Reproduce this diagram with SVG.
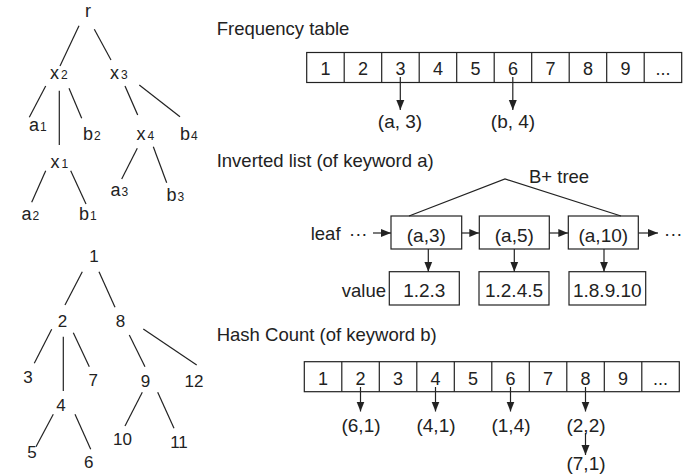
<svg xmlns="http://www.w3.org/2000/svg" width="695" height="476" viewBox="0 0 695 476">
<style>
text{font-family:"Liberation Sans",Arial,sans-serif;fill:#222}
.t{font-size:18px}
.s{font-size:12px}
.n{font-size:17px;text-anchor:middle}
.ttl{font-size:18.5px}
.c{font-size:18px;text-anchor:middle}
.l{font-size:19px;text-anchor:middle}
.e{stroke:#222;stroke-width:1.2;fill:none}
.box{stroke:#222;stroke-width:1.2;fill:#fff}
.a{stroke:#222;stroke-width:1.2;fill:none;marker-end:url(#ah)}
</style>
<defs>
<marker id="ah" markerUnits="userSpaceOnUse" markerWidth="10" markerHeight="10" viewBox="0 0 10 10" refX="10" refY="5" orient="auto">
<path d="M0,1 L10,5 L0,9 Z" fill="#222"/>
</marker>
</defs>
<rect width="695" height="476" fill="#fff"/>

<!-- Tree 1 edges -->
<g id="tree1-edges">
<line class="e" x1="79" y1="25.7" x2="60" y2="66"/>
<line class="e" x1="94.3" y1="29.3" x2="111" y2="60"/>
<line class="e" x1="45.7" y1="86" x2="29.3" y2="117.3"/>
<line class="e" x1="59.3" y1="90.7" x2="59.3" y2="145"/>
<line class="e" x1="69" y1="88.3" x2="81.7" y2="118.3"/>
<line class="e" x1="125" y1="86" x2="137.7" y2="115"/>
<line class="e" x1="139.3" y1="85" x2="180" y2="116.7"/>
<line class="e" x1="45.7" y1="170.7" x2="31.7" y2="202.3"/>
<line class="e" x1="70.7" y1="170.7" x2="86" y2="204"/>
<line class="e" x1="137.3" y1="148.3" x2="121.7" y2="179"/>
<line class="e" x1="153.3" y1="146.7" x2="166.7" y2="182.7"/>
</g>
<g id="t1-r"><text class="t" x="88" y="16.7" text-anchor="middle">r</text></g>
<g id="t1-x2"><text class="t" x="50" y="79">x<tspan class="s" dx="2">2</tspan></text></g>
<g id="t1-x3"><text class="t" x="110" y="79">x<tspan class="s" dx="2">3</tspan></text></g>
<g id="t1-a1"><text class="t" x="29" y="130.7">a<tspan class="s" dx="1">1</tspan></text></g>
<g id="t1-b2"><text class="t" x="83" y="140">b<tspan class="s" dx="1">2</tspan></text></g>
<g id="t1-x4"><text class="t" x="136.5" y="140">x<tspan class="s" dx="2">4</tspan></text></g>
<g id="t1-b4"><text class="t" x="180" y="140">b<tspan class="s" dx="1">4</tspan></text></g>
<g id="t1-x1"><text class="t" x="50.5" y="168.3">x<tspan class="s" dx="2">1</tspan></text></g>
<g id="t1-a3"><text class="t" x="110.5" y="196">a<tspan class="s" dx="1">3</tspan></text></g>
<g id="t1-b3"><text class="t" x="166.5" y="200.7">b<tspan class="s" dx="1">3</tspan></text></g>
<g id="t1-a2"><text class="t" x="21.5" y="220">a<tspan class="s" dx="1">2</tspan></text></g>
<g id="t1-b1"><text class="t" x="79" y="220">b<tspan class="s" dx="1">1</tspan></text></g>

<!-- Tree 2 edges -->
<g id="tree2-edges">
<line class="e" x1="82.3" y1="271.7" x2="65" y2="305"/>
<line class="e" x1="99" y1="271.7" x2="115" y2="307.3"/>
<line class="e" x1="51.7" y1="329.3" x2="34.3" y2="363.3"/>
<line class="e" x1="63.3" y1="336.7" x2="63.3" y2="391"/>
<line class="e" x1="73.3" y1="332.7" x2="89.3" y2="366.7"/>
<line class="e" x1="129.3" y1="335" x2="145" y2="366.7"/>
<line class="e" x1="143.3" y1="329" x2="196.7" y2="365"/>
<line class="e" x1="53.3" y1="414.3" x2="36" y2="446.7"/>
<line class="e" x1="75" y1="414.3" x2="90.7" y2="449.3"/>
<line class="e" x1="142.3" y1="392.3" x2="125" y2="426"/>
<line class="e" x1="157.7" y1="392.3" x2="174" y2="428.3"/>
</g>
<g id="t2-1"><text class="n" x="94" y="261.7">1</text></g>
<g id="t2-2"><text class="n" x="62.5" y="326.7">2</text></g>
<g id="t2-8"><text class="n" x="120.5" y="326.7">8</text></g>
<g id="t2-3"><text class="n" x="28" y="383.3">3</text></g>
<g id="t2-7"><text class="n" x="93.3" y="386">7</text></g>
<g id="t2-9"><text class="n" x="145.5" y="386.7">9</text></g>
<g id="t2-12"><text class="n" x="194" y="386.7">12</text></g>
<g id="t2-4"><text class="n" x="61" y="411">4</text></g>
<g id="t2-10"><text class="n" x="122.5" y="445">10</text></g>
<g id="t2-11"><text class="n" x="179" y="447.7">11</text></g>
<g id="t2-5"><text class="n" x="32" y="457.7">5</text></g>
<g id="t2-6"><text class="n" x="88.7" y="468.3">6</text></g>

<!-- Frequency table -->
<g id="freq-title"><text class="ttl" x="216.7" y="35">Frequency table</text></g>
<g id="freq-table">
<rect class="box" x="306.7" y="52.5" width="375" height="30"/>
<path class="e" d="M344.2,52.5V82.5M381.7,52.5V82.5M419.2,52.5V82.5M456.7,52.5V82.5M494.2,52.5V82.5M531.7,52.5V82.5M569.2,52.5V82.5M606.7,52.5V82.5M644.2,52.5V82.5"/>
<text class="c" x="325.5" y="75">1</text>
<text class="c" x="363" y="75">2</text>
<text class="c" x="400.5" y="75">3</text>
<text class="c" x="438" y="75">4</text>
<text class="c" x="475.5" y="75">5</text>
<text class="c" x="513" y="75">6</text>
<text class="c" x="550.5" y="75">7</text>
<text class="c" x="588" y="75">8</text>
<text class="c" x="625.5" y="75">9</text>
<text class="c" x="663" y="75">...</text>
</g>
<g id="freq-a3"><text class="l" x="400" y="127.5">(a, 3)</text></g>
<g id="freq-b4"><text class="l" x="513" y="127.5">(b, 4)</text></g>

<!-- Inverted list -->
<g id="inv-title"><text class="ttl" x="216.7" y="166.5">Inverted list (of keyword a)</text></g>
<g id="bplus"><text class="ttl" x="529" y="182.7">B+ tree</text></g>
<g id="leaf-label"><text class="ttl" x="310.7" y="240">leaf</text><text class="ttl" x="349" y="240">···</text></g>
<g id="leaf-a3"><rect class="box" x="391" y="216" width="70.7" height="33"/><text class="l" x="426.3" y="242">(a,3)</text></g>
<g id="leaf-a5"><rect class="box" x="479.3" y="216" width="70" height="33"/><text class="l" x="514.3" y="242">(a,5)</text></g>
<g id="leaf-a10"><rect class="box" x="568.3" y="216" width="70" height="33"/><text class="l" x="603.3" y="242">(a,10)</text></g>
<g id="leaf-end"><text class="ttl" x="664" y="240">···</text></g>
<g id="value-label"><text class="ttl" x="386" y="297" text-anchor="end">value</text></g>
<g id="val-123"><rect class="box" x="389.3" y="271.7" width="70" height="33.3"/><text class="l" x="424.3" y="297">1.2.3</text></g>
<g id="val-1245"><rect class="box" x="479" y="271.7" width="70" height="33.3"/><text class="l" x="514" y="297">1.2.4.5</text></g>
<g id="val-18910"><rect class="box" x="569" y="271.7" width="76.7" height="33.3"/><text class="l" x="607.3" y="297">1.8.9.10</text></g>

<!-- Hash count -->
<g id="hash-title"><text class="ttl" x="216.7" y="341">Hash Count (of keyword b)</text></g>
<g id="hash-table">
<rect class="box" x="304.3" y="361.7" width="375" height="30"/>
<path class="e" d="M341.8,361.7V391.7M379.3,361.7V391.7M416.8,361.7V391.7M454.3,361.7V391.7M491.8,361.7V391.7M529.3,361.7V391.7M566.8,361.7V391.7M604.3,361.7V391.7M641.8,361.7V391.7"/>
<text class="c" x="323" y="384.5">1</text>
<text class="c" x="360.5" y="384.5">2</text>
<text class="c" x="398" y="384.5">3</text>
<text class="c" x="435.5" y="384.5">4</text>
<text class="c" x="473" y="384.5">5</text>
<text class="c" x="510.5" y="384.5">6</text>
<text class="c" x="548" y="384.5">7</text>
<text class="c" x="585.5" y="384.5">8</text>
<text class="c" x="623" y="384.5">9</text>
<text class="c" x="660.5" y="384.5">...</text>
</g>
<g id="h-61"><text class="l" x="361" y="431.5">(6,1)</text></g>
<g id="h-41"><text class="l" x="436" y="431.5">(4,1)</text></g>
<g id="h-14"><text class="l" x="511" y="431.5">(1,4)</text></g>
<g id="h-22"><text class="l" x="586" y="431.5">(2,2)</text></g>
<g id="h-71"><text class="l" x="586" y="469.5">(7,1)</text></g>

<!-- connectors -->
<g id="connectors">
<line class="a" x1="400.3" y1="77" x2="400.3" y2="110"/>
<line class="a" x1="512.8" y1="77" x2="512.8" y2="110"/>
<polyline class="e" points="409,216 505,179 621,216"/>
<line class="a" x1="373" y1="233" x2="391" y2="233"/>
<line class="a" x1="461.7" y1="233" x2="479.3" y2="233"/>
<line class="a" x1="549.3" y1="233" x2="568.3" y2="233"/>
<line class="a" x1="638.3" y1="233" x2="658" y2="233"/>
<line class="a" x1="428.3" y1="249" x2="428.3" y2="271.7"/>
<line class="a" x1="514.3" y1="249" x2="514.3" y2="271.7"/>
<line class="a" x1="604" y1="249" x2="604" y2="271.7"/>
<line class="a" x1="360.5" y1="387" x2="360.5" y2="411.5"/>
<line class="a" x1="435.5" y1="387" x2="435.5" y2="411.5"/>
<line class="a" x1="510.5" y1="387" x2="510.5" y2="411.5"/>
<line class="a" x1="585.5" y1="387" x2="585.5" y2="411.5"/>
<line class="a" x1="585.5" y1="433" x2="585.5" y2="455"/>
</g>
</svg>
